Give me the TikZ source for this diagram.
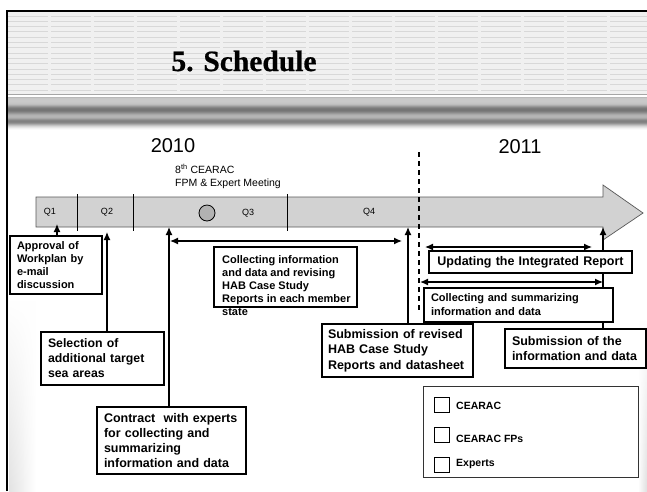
\documentclass[tikz,border=0pt]{standalone}
\usepackage{fontspec}
\setmainfont{Liberation Sans}
\newfontfamily\titlefont[BoldFeatures={FakeBold=0.6}]{Liberation Serif}
\usetikzlibrary{arrows.meta,fadings}
\definecolor{bandgray}{RGB}{210,210,210}
\definecolor{hdrgray}{RGB}{240,240,240}
\definecolor{stripegray}{RGB}{216,216,216}
\newcommand{\fs}[2]{\fontsize{#1}{#2}\selectfont}
\tikzset{
  box/.style={draw, line width=1.3pt, fill=white, outer sep=0pt, inner xsep=7pt,
    inner ysep=0pt, align=left, anchor=north west},
  arr/.style={line width=1.3pt, -{Latex[length=8pt,width=7pt]}},
  dbl/.style={line width=1.3pt, {Latex[length=8pt,width=7pt]}-{Latex[length=8pt,width=7pt]}},
  divider/.style={line width=1pt},
  qlabel/.style={font=\fs{9}{11}, inner sep=0pt},
  year/.style={font=\fs{20}{24}, inner sep=0pt},
  sqbox/.style={draw, line width=1pt, minimum size=15pt, inner sep=0pt, outer sep=0pt},
  legtext/.style={font=\bfseries\fs{10.5}{12}, anchor=base west, inner sep=0pt},
}
\begin{document}
\begin{tikzpicture}[x=1pt, y=-1pt]
\useasboundingbox (0,0) rectangle (647,491);
\fill[white] (0,0) rectangle (647,491);

% --- slide header: striped title panel
\fill[hdrgray] (8,12) rectangle (647,94);
\foreach \yy in {16,21.3,...,92}
  \draw[stripegray, line width=1pt, dash pattern=on 40pt off 3pt] (8,\yy) -- (647,\yy);
\draw[gray!70, line width=1.6pt] (8,94.5) -- (647,94.5);
\fill[white] (8,95.5) rectangle (647,96.5);
\draw[gray!55, line width=0.8pt] (8,97) -- (647,97);
% metallic band under the title, one row per unit
\foreach \yy/\gg in {97.5/24,98/22,99/21,100/21,101/21,102/22,103/23,104/26,105/32,106/40,
  107/47,108/52,109/54,110/54,111/51,112/46,113/40,114/34,115/30,116/29,117/30,118/35,
  119/42,120/48,121/50,122/48,123/42,124/33,125/24,126/16,127/10,128/5,129/2}
  \fill[black!\gg] (8,\yy) rectangle (647,\yy+1.02);

% soft side shadows
\shade[left color=gray!22, right color=white, path fading=north] (9,300) rectangle (36,491);
\shade[left color=white, right color=gray!25, path fading=north] (638,320) rectangle (647,491);

% frame
\draw[line width=2pt] (7,491) -- (7,11) -- (647,11);

% title and years
\node[font=\titlefont\bfseries\fs{29.5}{34}, inner sep=0pt] (title) at (244,61) {5. Schedule};
\node[year] (y2010) at (173,146) {2010};
\node[year] (y2011) at (520,147) {2011};

% --- time line arrow
\path[fill=bandgray, draw=gray!70!black, line width=0.7pt]
  (36,197) -- (603,197) -- (603,185) -- (643,213) -- (603,240) -- (603,227) -- (36,227) -- cycle;
\foreach \xx in {77,133,287}
  \draw[divider] (\xx,194) -- (\xx,231);
\node[qlabel] (q1) at (50,212) {Q1};
\node[qlabel] (q2) at (107,212) {Q2};
\node[qlabel] (q3) at (248,213) {Q3};
\node[qlabel] (q4) at (369,212) {Q4};
\node[circle, draw, line width=0.8pt, fill=gray!60, minimum size=16pt, inner sep=0pt] (mtgdot) at (207,213) {};
\node[anchor=north west, align=left, inner sep=0pt, font=\fs{10.5}{13}] (mtg) at (175,164)
  {8\textsuperscript{th} CEARAC\\FPM \& Expert Meeting};

% year boundary
\draw[line width=1.2pt, dash pattern=on 5pt off 4pt] (419,152) -- (419,312);

% arrow targets on the time line
\coordinate (t1) at (57,224);
\coordinate (t2) at (107,232);
\coordinate (t3) at (169,227);
\coordinate (t4) at (408,227);
\coordinate (t5) at (603,227);
% span arrows
\coordinate (c1) at (170,241);
\coordinate (c2) at (402,241);
\coordinate (u1) at (425,247);
\coordinate (u2) at (592,247);
\coordinate (s1) at (420,282);
\coordinate (s2) at (603,282);

% --- boxes
\node[box, text width=78pt, minimum height=58pt, font=\bfseries\fs{11}{13}] (appr) at (10,236)
  {Approval of\\Workplan by\\e-mail\\discussion};
\node[box, text width=109pt, minimum height=53pt, font=\bfseries\fs{12.3}{15}] (sel) at (41,332)
  {Selection of\\additional target\\sea areas};
\node[box, text width=135pt, minimum height=67pt, font=\bfseries\fs{12.5}{14.7}] (contr) at (97,407)
  {Contract\ \ with experts\\for collecting and\\summarizing\\information and data};
\node[box, text width=139pt, inner xsep=6pt, minimum height=53pt, font=\bfseries\fs{12.5}{15.5}] (subrev) at (322,324)
  {Submission of revised\\HAB Case Study\\Reports and datasheet};
\node[box, text width=127pt, minimum height=39pt, font=\bfseries\fs{12.5}{15}] (subinfo) at (505,329)
  {Submission of the\\information and data};

% connectors to the time line (drawn before the boxes that overlap them)
\draw[arr] (t1 |- appr.north) -- (t1);
\draw[arr] (t2 |- sel.north) -- (t2);
\draw[arr] (t3 |- contr.north) -- (t3);
\draw[arr] (t4 |- subrev.north) -- (t4);
\draw[arr] (t5 |- subinfo.north) -- (t5);
\draw[dbl] (c1) -- (c2);
\draw[dbl] (u1) -- (u2);
\draw[dbl] (s1) -- (s2);

\node[box, minimum width=143pt, minimum height=60pt, inner sep=0pt] (collbox) at (214,247) {};
\node[anchor=north west, align=left, inner sep=0pt, font=\bfseries\fs{11}{13}] (colltxt) at (222,255)
  {Collecting information\\and data and revising\\HAB Case Study\\Reports in each member\\state};
\node[box, text width=203pt, inner xsep=0pt, align=center, minimum height=22pt, font=\bfseries\fs{12.5}{15}] (upd) at (429,251)
  {Updating the Integrated Report};
\node[box, text width=175pt, minimum height=34pt, font=\bfseries\fs{11}{14}] (collsum) at (424,288)
  {Collecting and summarizing\\information and data};

% --- legend
\node[draw=black!80, line width=1pt, minimum width=215pt, minimum height=91pt, inner sep=0pt,
  outer sep=0pt, anchor=north west] (legend) at (423,386) {};
\node[sqbox] (sq1) at (441.5,404.5) {};
\node[sqbox] (sq2) at (441.5,434.5) {};
\node[sqbox] (sq3) at (441.5,464.5) {};
\node[legtext] (l1) at (456,409) {CEARAC};
\node[legtext] (l2) at (456,442) {CEARAC FPs};
\node[legtext] (l3) at (456,466) {Experts};
\end{tikzpicture}
\end{document}
